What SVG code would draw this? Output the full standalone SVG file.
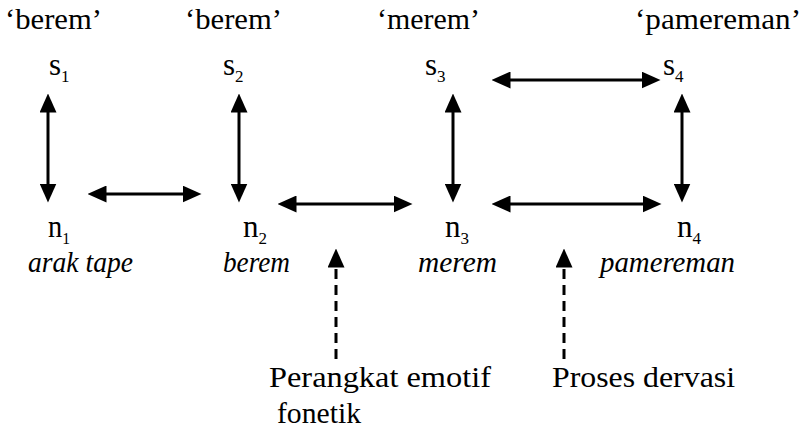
<svg xmlns="http://www.w3.org/2000/svg" width="810" height="429" viewBox="0 0 810 429">
<style>
text{font-family:"Liberation Serif","Times New Roman",serif;fill:#000}
.t{font-size:30px}
.v{font-size:31px}
.sub{font-size:17px}
.i{font-size:29px;font-style:italic}
.b{font-size:30px}
.ln{stroke:#000;stroke-width:3;fill:none}
.dash{stroke-dasharray:10 6}
</style>
<defs>
<marker id="ah" viewBox="0 0 19 17" refX="0.5" refY="8.5" markerWidth="19" markerHeight="17" markerUnits="userSpaceOnUse" orient="auto-start-reverse">
<path d="M0,0 L19,8.5 L0,17 z" fill="#000"/>
</marker>
</defs>
<rect width="810" height="429" fill="#fff"/>
<g id="node-s1">
<text class="t" x="5" y="29" textLength="97" lengthAdjust="spacingAndGlyphs">‘berem’</text>
<text class="v" x="49" y="75">s<tspan class="sub" dy="7">1</tspan></text>
</g>
<g id="node-s2">
<text class="t" x="185" y="29" textLength="97" lengthAdjust="spacingAndGlyphs">‘berem’</text>
<text class="v" x="223" y="75">s<tspan class="sub" dy="7">2</tspan></text>
</g>
<g id="node-s3">
<text class="t" x="377" y="29" textLength="103" lengthAdjust="spacingAndGlyphs">‘merem’</text>
<text class="v" x="425" y="75">s<tspan class="sub" dy="7">3</tspan></text>
</g>
<g id="node-s4">
<text class="t" x="635" y="29" textLength="166" lengthAdjust="spacingAndGlyphs">‘pamereman’</text>
<text class="v" x="663" y="75">s<tspan class="sub" dy="7">4</tspan></text>
</g>
<g id="node-n1">
<text class="v" x="48" y="237" textLength="22" lengthAdjust="spacingAndGlyphs">n<tspan class="sub" dy="7">1</tspan></text>
<text class="i" x="28" y="272" textLength="105" lengthAdjust="spacingAndGlyphs">arak tape</text>
</g>
<g id="node-n2">
<text class="v" x="243" y="237">n<tspan class="sub" dy="7">2</tspan></text>
<text class="i" x="223" y="272" textLength="67" lengthAdjust="spacingAndGlyphs">berem</text>
</g>
<g id="node-n3">
<text class="v" x="445" y="237">n<tspan class="sub" dy="7">3</tspan></text>
<text class="i" x="418" y="272" textLength="79" lengthAdjust="spacingAndGlyphs">merem</text>
</g>
<g id="node-n4">
<text class="v" x="677" y="237">n<tspan class="sub" dy="7">4</tspan></text>
<text class="i" x="600" y="272" textLength="135" lengthAdjust="spacingAndGlyphs">pamereman</text>
</g>
<g id="node-emotif">
<text class="b" x="269" y="387" textLength="222" lengthAdjust="spacingAndGlyphs">Perangkat emotif</text>
<text class="b" x="277" y="423" textLength="84" lengthAdjust="spacingAndGlyphs">fonetik</text>
</g>
<g id="node-derivasi">
<text class="b" x="552" y="387" textLength="183" lengthAdjust="spacingAndGlyphs">Proses dervasi</text>
</g>
<g id="connectors">
<line class="ln" x1="48" y1="112" x2="48" y2="184" marker-start="url(#ah)" marker-end="url(#ah)"/>
<line class="ln" x1="239" y1="112" x2="239" y2="184" marker-start="url(#ah)" marker-end="url(#ah)"/>
<line class="ln" x1="453" y1="112" x2="453" y2="184" marker-start="url(#ah)" marker-end="url(#ah)"/>
<line class="ln" x1="682" y1="112" x2="682" y2="184" marker-start="url(#ah)" marker-end="url(#ah)"/>
<line class="ln" x1="106" y1="194" x2="183" y2="194" marker-start="url(#ah)" marker-end="url(#ah)"/>
<line class="ln" x1="296" y1="204" x2="394" y2="204" marker-start="url(#ah)" marker-end="url(#ah)"/>
<line class="ln" x1="510" y1="204" x2="643" y2="204" marker-start="url(#ah)" marker-end="url(#ah)"/>
<line class="ln" x1="510" y1="80" x2="642" y2="80" marker-start="url(#ah)" marker-end="url(#ah)"/>
<line class="ln dash" x1="336" y1="359" x2="336" y2="267" marker-end="url(#ah)"/>
<line class="ln dash" x1="564" y1="359" x2="564" y2="267" marker-end="url(#ah)"/>
</g>
</svg>
